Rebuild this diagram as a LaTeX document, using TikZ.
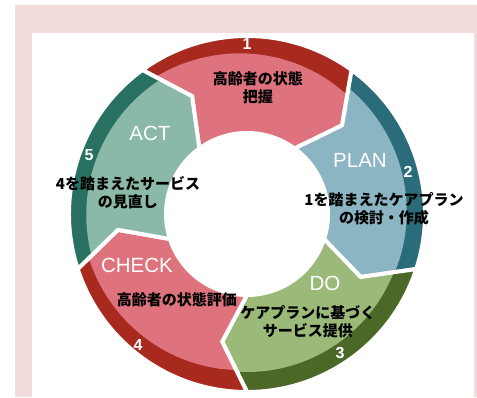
\documentclass[tikz,border=0pt]{standalone}
\usepackage{fontspec}
\setmainfont{Liberation Sans}
\newfontfamily\jpfont{Noto Sans CJK JP}
\definecolor{bgpink}{HTML}{F2DCDB}
\definecolor{redL}{HTML}{DF737D}
\definecolor{redD}{HTML}{A82A1E}
\definecolor{blueL}{HTML}{8BB5C2}
\definecolor{blueD}{HTML}{2B6C7A}
\definecolor{greenL}{HTML}{9BB978}
\definecolor{greenD}{HTML}{4B6826}
\definecolor{tealL}{HTML}{8BB9A8}
\definecolor{tealD}{HTML}{287060}

\begin{document}
\begin{tikzpicture}[x=1pt,y=1pt,
    seg/.style={insert path={({#1+36}:178) arc[start angle={#1+36}, end angle={#1-36}, radius=178]
        -- ({#1-47}:130) -- ({#1-36}:81) arc[start angle={#1-36}, end angle={#1+36}, radius=81]
        -- ({#1+25}:130) -- cycle}},
    jp/.style={font=\jpfont\bfseries\fontsize{15}{18}\selectfont, align=center, inner sep=0pt},
    tag/.style={font=\fontsize{20.5}{22}\selectfont, text=white, inner sep=0pt},
    num/.style={font=\bfseries\fontsize{16}{18}\selectfont, text=white, inner sep=0pt}]
    \useasboundingbox (-247,-183) rectangle (230,214);
    \fill[bgpink] (-232,-183) rectangle (230,209);
    \fill[white] (-215,-183) rectangle (227,181);
    % segments: centre angle / light radius at start and end / colours
    \foreach \c/\rt/\rl/\dk/\lt in {90/165/156/redD/redL, 18/162/159/blueD/blueL,
        -54/158/158/greenD/greenL, -126/156/164/redD/redL, -198/161/160/tealD/tealL}{
        \pgfmathsetmacro{\da}{\c+40}
        \pgfmathsetmacro{\db}{\c-50}
        \begin{scope}
            \clip[seg=\c];
            \fill[\dk] (0,0) circle (190);
            \fill[\lt] plot[domain=\da:\db, samples=40] (\x:{\rt+(\rl-\rt)*(\c+36-\x)/72}) -- (0,0) -- cycle;
        \end{scope}
        \draw[white, line width=4, seg=\c];
    }
    \node (n1) [num] at (0,170) {1};
    \node (n2) [num] at (161,42) {2};
    \node (n3) [num] at (93,-139) {3};
    \node (n4) [num] at (-109,-131) {4};
    \node (n5) [num] at (-158,59) {5};
    \node (plan) [tag] at (113,54) {PLAN};
    \node (do) [tag] at (78,-69) {DO};
    \node (check) [tag] at (-110,-51) {CHECK};
    \node (act) [tag] at (-97,81) {ACT};
    \node (t1) [jp] at (11,126) {高齢者の状態\\把握};
    \node (t2) [jp] at (137,5) {1を踏まえたケアプラン\\の検討・作成};
    \node (t3) [jp] at (61,-108) {ケアプランに基づく\\サービス提供};
    \node (t4) [jp] at (-70,-86) {高齢者の状態評価};
    \node (t5) [jp] at (-119,21) {4を踏まえたサービス\\の見直し};
\end{tikzpicture}
\end{document}
